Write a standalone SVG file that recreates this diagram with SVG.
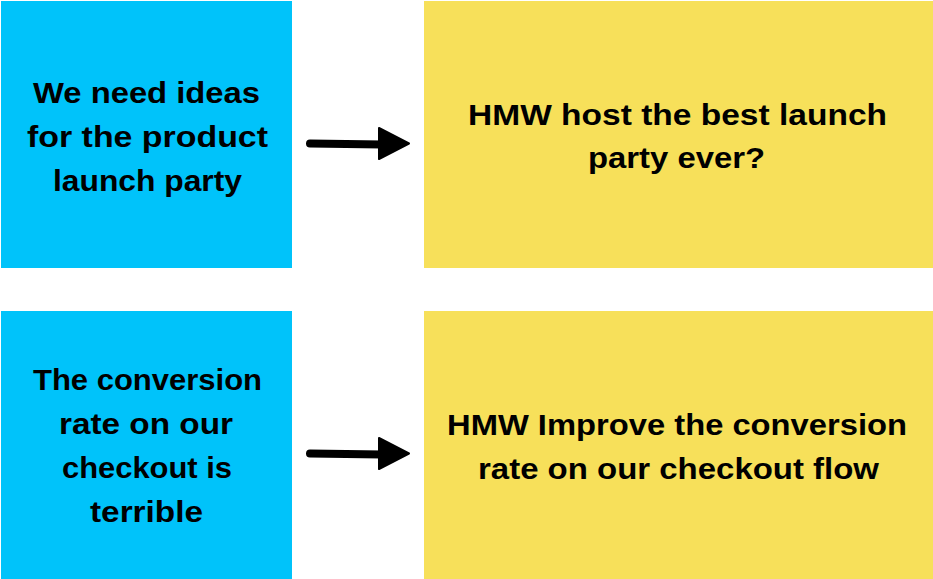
<svg xmlns="http://www.w3.org/2000/svg" width="933" height="579" viewBox="0 0 933 579">
<style>
.blue{fill:#00C3FA}
.yellow{fill:#F7E05A}
.t{font-family:"Liberation Sans",Arial,sans-serif;font-weight:bold;font-size:30px;fill:#000;text-anchor:middle}
.line{stroke:#000;stroke-width:8;stroke-linecap:round;fill:none}
.head{fill:#000;stroke:#000;stroke-width:2;stroke-linejoin:round}
</style>
<rect width="933" height="579" fill="#fff"/>
<g id="node-problem1">
<rect class="blue" x="1" y="1" width="291" height="267"/>
<text class="t" x="146.5" y="103" textLength="227" lengthAdjust="spacingAndGlyphs">We need ideas</text>
<text class="t" x="147.5" y="147" textLength="241" lengthAdjust="spacingAndGlyphs">for the product</text>
<text class="t" x="147.5" y="191" textLength="189" lengthAdjust="spacingAndGlyphs">launch party</text>
</g>
<g id="node-hmw1">
<rect class="yellow" x="424" y="1" width="509" height="267"/>
<text class="t" x="677.5" y="125" textLength="419" lengthAdjust="spacingAndGlyphs">HMW host the best launch</text>
<text class="t" x="676.5" y="168" textLength="177" lengthAdjust="spacingAndGlyphs">party ever?</text>
</g>
<g id="node-problem2">
<rect class="blue" x="1" y="311" width="291" height="268"/>
<text class="t" x="147.5" y="390" textLength="229" lengthAdjust="spacingAndGlyphs">The conversion</text>
<text class="t" x="146" y="434" textLength="174" lengthAdjust="spacingAndGlyphs">rate on our</text>
<text class="t" x="147" y="478" textLength="170" lengthAdjust="spacingAndGlyphs">checkout is</text>
<text class="t" x="146.5" y="522" textLength="113" lengthAdjust="spacingAndGlyphs">terrible</text>
</g>
<g id="node-hmw2">
<rect class="yellow" x="424" y="311" width="509" height="268"/>
<text class="t" x="677" y="435" textLength="460" lengthAdjust="spacingAndGlyphs">HMW Improve the conversion</text>
<text class="t" x="678.5" y="479" textLength="401" lengthAdjust="spacingAndGlyphs">rate on our checkout flow</text>
</g>
<g id="connectors">
<path class="line" d="M310 143.5 L382 144.5"/>
<polygon class="head" points="379,128 409,143.5 379,159"/>
<path class="line" d="M310 453.5 L382 454.5"/>
<polygon class="head" points="379,438 409,453.5 379,469"/>
</g>
</svg>
